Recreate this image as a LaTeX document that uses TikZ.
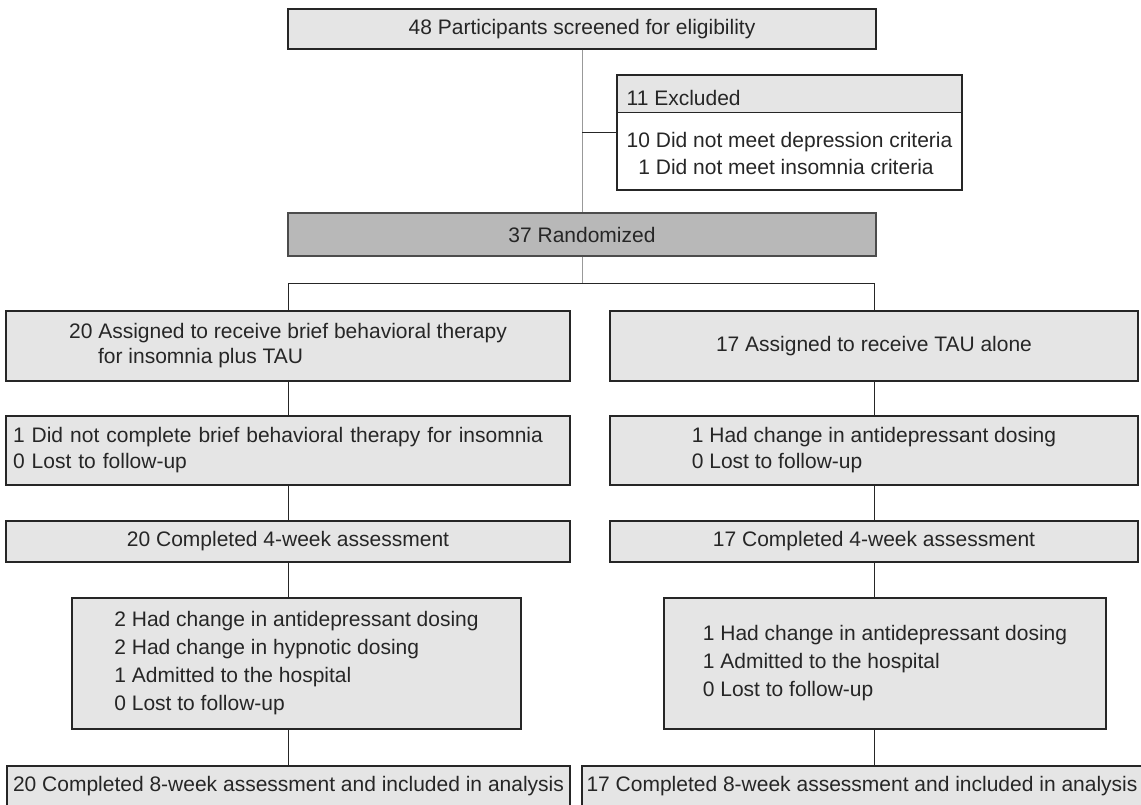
\documentclass[tikz,border=0pt]{standalone}
\usepackage{fontspec}
\setmainfont{Liberation Sans}
\usetikzlibrary{backgrounds}
\definecolor{boxfill}{gray}{0.90}
\definecolor{randfill}{gray}{0.72}
\newcommand\boxfont{\fontsize{21}{27}\selectfont}
\begin{document}
\begin{tikzpicture}[x=1pt,y=-1pt,
  box/.style={draw=black!85, line width=1.1pt, fill=boxfill, inner xsep=4pt, inner ysep=0pt,
              align=left, font=\boxfont, text=black!85},
  ln/.style={draw=black!85, line width=0.9pt},
  lnL/.style={draw=black!40, line width=0.9pt}]
\useasboundingbox (0,0) rectangle (1141,805);
\clip (0,0) rectangle (1141,805);

% top
\node[box, minimum width=588pt, minimum height=40pt] (screen) at (582,29) {48 Participants screened for eligibility};
\node[box, fill=none, minimum width=345pt, minimum height=115pt] (excl) at (789.5,132.5)
  {11 Excluded\\[15pt]10 Did not meet depression criteria\\\phantom{1}1 Did not meet insomnia criteria};
\begin{scope}[on background layer]
  \fill[boxfill] (excl.north west) rectangle ([yshift=-38pt]excl.north east);
\end{scope}
\draw[draw=black!85, line width=1.1pt] ([yshift=-38pt]excl.north west) -- ([yshift=-38pt]excl.north east);
\node[box, fill=randfill, draw=black!70, minimum width=588pt, minimum height=43pt] (rand) at (582,234.5) {37 Randomized};

% column A
\node[box, minimum width=564pt, minimum height=70pt] (a1) at (288,346)
  {20 Assigned to receive brief behavioral therapy\\[-2pt]\hspace*{29pt}for insomnia plus TAU};
\node[box, minimum width=564pt, minimum height=69pt, text width=550pt, inner xsep=7pt] (a2) at (288,450.5)
  {1 Did not complete brief behavioral therapy for insomnia\\[-1pt]0 Lost to follow-up};
\node[box, minimum width=564pt, minimum height=41pt] (a3) at (288,541.5) {20 Completed 4-week assessment};
\node[box, minimum width=449pt, minimum height=131pt] (a4) at (296.5,663.5)
  {2 Had change in antidepressant dosing\\[1pt]2 Had change in hypnotic dosing\\[1pt]1 Admitted to the hospital\\[1pt]0 Lost to follow-up};
\node[box, minimum width=563pt, minimum height=40pt] (a5) at (288.5,786) {20 Completed 8-week assessment and included in analysis};

% column B
\node[box, minimum width=528pt, minimum height=70pt] (b1) at (874,346) {17 Assigned to receive TAU alone};
\node[box, minimum width=528pt, minimum height=69pt] (b2) at (874,450.5)
  {1 Had change in antidepressant dosing\\[-1pt]0 Lost to follow-up};
\node[box, minimum width=528pt, minimum height=41pt] (b3) at (874,541.5) {17 Completed 4-week assessment};
\node[box, minimum width=442pt, minimum height=131pt] (b4) at (885,663.5)
  {1 Had change in antidepressant dosing\\[1pt]1 Admitted to the hospital\\[1pt]0 Lost to follow-up};
\node[box, minimum width=560pt, minimum height=40pt] (b5) at (862,786) {17 Completed 8-week assessment and included in analysis};

% connectors
\coordinate (sp) at (582,283);
\draw[lnL] (screen.south) -- (rand.north);
\draw[ln] (excl.west) -- (excl.west -| screen.south);
\draw[lnL] (rand.south) -- (sp);
\draw[ln] (a1.north) -- (a1.north |- sp) -- (b1.north |- sp) -- (b1.north);
\draw[ln] (a1) -- (a2);
\draw[ln] (a2) -- (a3);
\draw[ln] (a3.south) -- (a3.south |- a4.north);
\draw[ln] (a4.south -| a3.south) -- (a5.north -| a3.south);
\draw[ln] (b1) -- (b2);
\draw[ln] (b2) -- (b3);
\draw[ln] (b3.south) -- (b3.south |- b4.north);
\draw[ln] (b4.south -| b3.south) -- (b5.north -| b3.south);
\end{tikzpicture}
\end{document}
